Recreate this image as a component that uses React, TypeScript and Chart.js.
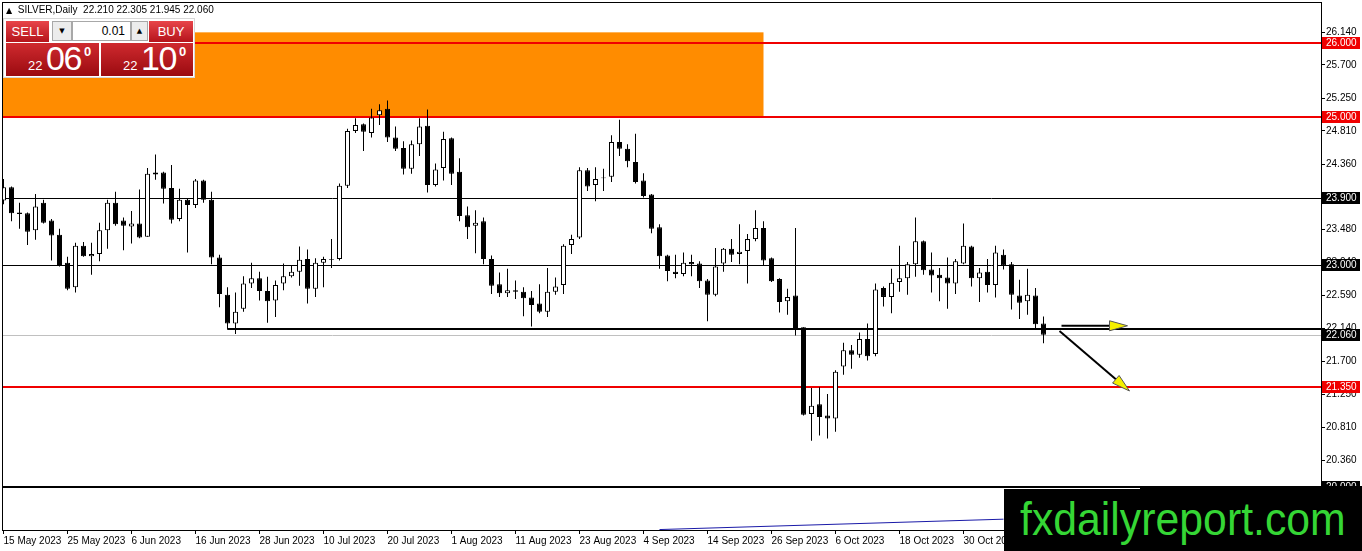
import { useEffect, useRef } from 'react'
import { Chart, registerables } from 'chart.js'

Chart.register(...registerables)

// daily OHLC, 15 May 2023 .. 13 Nov 2023 (weekdays)
const open = [
  23.87, 24.05, 23.71, 23.70, 23.47, 23.84, 23.60, 23.41, 23.03, 22.70,
  23.26, 23.12, 23.15, 23.47, 23.84, 23.60, 23.52, 23.56, 23.38, 24.25,
  24.25, 24.04, 23.62, 23.88, 23.81, 24.14, 23.88, 23.10, 22.60, 22.21,
  22.41, 22.75, 22.82, 22.65, 22.52, 22.75, 22.85, 22.91, 23.08, 22.68,
  23.03, 23.08, 23.08, 24.07, 24.81, 24.90, 24.78, 25.02, 25.11, 24.72,
  24.58, 24.30, 24.63, 24.88, 24.08, 24.31, 24.71, 24.26, 23.67, 23.53,
  23.59, 23.08, 22.74, 22.62, 22.66, 22.64, 22.56, 22.48, 22.37, 22.64,
  22.73, 23.27, 23.37, 24.28, 24.08, 24.17, 24.19, 24.66, 24.57, 24.39,
  24.14, 23.95, 23.51, 23.13, 22.91, 22.88, 23.04, 23.02, 22.79, 22.60,
  23.02, 23.22, 23.15, 23.19, 23.35, 23.50, 23.09, 22.81, 22.51, 22.59,
  22.16, 20.99, 21.12, 20.97, 20.93, 21.63, 21.85, 21.79, 22.00, 21.80,
  22.69, 22.57, 22.77, 22.82, 23.01, 23.32, 22.94, 22.87, 22.83, 22.75,
  23.02, 23.25, 22.82, 22.91, 22.73, 23.14, 23.01, 22.59, 22.51, 22.59,
  22.21,
]
const high = [
  24.16, 24.06, 23.84, 23.71, 23.96, 23.88, 23.62, 23.49, 23.11, 23.30,
  23.31, 23.30, 23.57, 23.88, 23.99, 23.64, 23.73, 24.02, 24.31, 24.49,
  24.26, 24.35, 24.03, 23.89, 24.16, 24.15, 23.99, 23.14, 22.70, 22.63,
  22.85, 23.03, 22.91, 22.84, 22.79, 23.02, 23.00, 23.25, 23.21, 23.09,
  23.11, 23.35, 24.10, 24.84, 24.98, 24.91, 25.11, 25.17, 25.22, 24.87,
  24.67, 24.68, 24.98, 25.10, 24.37, 24.80, 24.72, 24.44, 23.79, 23.74,
  23.64, 23.13, 22.90, 22.95, 22.79, 22.70, 22.65, 22.74, 22.96, 22.83,
  23.28, 23.41, 24.32, 24.31, 24.32, 24.30, 24.75, 24.96, 24.63, 24.77,
  24.24, 23.96, 23.55, 23.14, 23.14, 23.17, 23.14, 23.05, 22.81, 23.23,
  23.23, 23.35, 23.55, 23.42, 23.74, 23.59, 23.10, 22.82, 22.68, 23.50,
  22.16, 21.34, 21.35, 21.26, 21.58, 21.95, 21.92, 22.09, 22.21, 22.75,
  22.71, 22.95, 23.26, 23.04, 23.64, 23.33, 23.17, 22.96, 23.10, 23.08,
  23.56, 23.26, 22.96, 23.08, 23.26, 23.21, 23.04, 22.80, 22.95, 22.69,
  22.305,
]
const low = [
  23.82, 23.59, 23.49, 23.27, 23.34, 23.56, 23.06, 22.98, 22.66, 22.63,
  23.11, 22.87, 23.05, 23.22, 23.53, 23.20, 23.29, 23.36, 23.38, 24.15,
  23.83, 23.56, 23.59, 23.17, 23.77, 23.84, 23.01, 22.43, 22.13, 22.07,
  22.37, 22.69, 22.52, 22.22, 22.30, 22.66, 22.83, 22.72, 22.48, 22.57,
  22.70, 22.96, 23.06, 24.04, 24.78, 24.54, 24.72, 24.89, 24.66, 24.54,
  24.22, 24.23, 24.47, 23.98, 24.06, 24.14, 24.08, 23.59, 23.35, 23.16,
  23.01, 22.61, 22.57, 22.57, 22.54, 22.31, 22.17, 22.35, 22.30, 22.60,
  22.61, 23.15, 23.35, 24.00, 23.86, 24.00, 24.12, 24.47, 24.32, 24.10,
  23.91, 23.43, 22.95, 22.78, 22.82, 22.85, 22.85, 22.69, 22.24, 22.58,
  22.91, 23.04, 23.01, 22.75, 23.32, 22.99, 22.77, 22.36, 22.33, 22.05,
  20.97, 20.63, 20.70, 20.66, 20.75, 21.52, 21.60, 21.75, 21.71, 21.77,
  22.44, 22.35, 22.64, 22.60, 22.84, 22.87, 22.63, 22.51, 22.41, 22.61,
  23.01, 22.71, 22.50, 22.63, 22.56, 22.94, 22.40, 22.27, 22.33, 22.15,
  21.945,
]
const close = [
  24.05, 23.70, 23.69, 23.45, 23.79, 23.57, 23.40, 23.00, 22.68, 23.26,
  23.12, 23.15, 23.47, 23.84, 23.55, 23.53, 23.56, 23.37, 24.23, 24.22,
  24.03, 23.61, 23.88, 23.81, 24.14, 23.88, 23.10, 22.61, 22.21, 22.37,
  22.75, 22.82, 22.65, 22.51, 22.73, 22.85, 22.91, 23.07, 22.68, 23.03,
  23.08, 23.07, 24.07, 24.81, 24.89, 24.80, 24.99, 25.09, 24.72, 24.57,
  24.30, 24.63, 24.87, 24.08, 24.29, 24.70, 24.23, 23.66, 23.51, 23.57,
  23.08, 22.72, 22.62, 22.66, 22.64, 22.55, 22.46, 22.37, 22.64, 22.71,
  23.26, 23.35, 24.28, 24.06, 24.16, 24.18, 24.66, 24.57, 24.40, 24.12,
  23.93, 23.49, 23.12, 22.92, 22.88, 23.03, 23.01, 22.78, 22.60, 22.98,
  23.22, 23.14, 23.18, 23.35, 23.50, 23.06, 22.78, 22.50, 22.57, 22.13,
  20.98, 21.10, 20.95, 20.93, 21.56, 21.85, 21.79, 22.00, 21.77, 22.67,
  22.57, 22.76, 22.82, 23.01, 23.32, 22.93, 22.86, 22.82, 22.75, 23.05,
  23.26, 22.82, 22.90, 22.73, 23.17, 22.99, 22.60, 22.49, 22.60, 22.20,
  22.06,
]

// one label every 8 bars
const dateTicks = [
  '15 May 2023', '25 May 2023', '6 Jun 2023', '16 Jun 2023', '28 Jun 2023',
  '10 Jul 2023', '20 Jul 2023', '1 Aug 2023', '11 Aug 2023', '23 Aug 2023',
  '4 Sep 2023', '14 Sep 2023', '26 Sep 2023', '6 Oct 2023', '18 Oct 2023',
  '30 Oct 2023', '9 Nov 2023',
]
const priceTicks = [
  26.14, 25.7, 25.25, 24.81, 24.36, 23.92, 23.48, 23.04,
  22.59, 22.14, 21.7, 21.25, 20.81, 20.36, 19.92,
]

const redLevels = [26.0, 25.0, 21.35]
const blackLevels = [23.9, 23.0]
const supportLevel = 22.13
const supportFrom = 28
const bidPrice = 22.06
const floorLevel = 20.0
const zoneTop = 26.14
const zoneBottom = 25.0
const zoneEnd = 95
const blueLine = [[82, 19.43], [125, 19.57]]
const arrows = [
  { from: [132.25, 22.18], to: [140.5, 22.18] },
  { from: [132, 22.11], to: [140.75, 21.3] },
]
const axisTags = [
  { value: 26.0, bg: '#f00000' },
  { value: 25.0, bg: '#f00000' },
  { value: 23.9, bg: '#000' },
  { value: 23.0, bg: '#000' },
  { value: 22.06, bg: '#000' },
  { value: 21.35, bg: '#f00000' },
  { value: 20.0, bg: '#000' },
]

const FONT = 'Liberation Sans, Arial, sans-serif'

const overlay = {
  id: 'overlay',
  beforeDatasetsDraw(chart: any) {
    const { ctx, chartArea: a, scales } = chart
    const x = scales.x
    const y = scales.y
    ctx.save()
    ctx.beginPath()
    ctx.rect(a.left, a.top, a.right - a.left, a.bottom - a.top)
    ctx.clip()

    const zt = y.getPixelForValue(zoneTop)
    const zb = y.getPixelForValue(zoneBottom)
    ctx.fillStyle = '#ff8c00'
    ctx.fillRect(a.left, zt, x.getPixelForValue(zoneEnd) - a.left, zb - zt)

    const hline = (v: number, color: string, w: number, from = a.left) => {
      const py = Math.round(y.getPixelForValue(v)) + (w % 2 ? 0.5 : 0)
      ctx.strokeStyle = color
      ctx.lineWidth = w
      ctx.beginPath()
      ctx.moveTo(from, py)
      ctx.lineTo(a.right, py)
      ctx.stroke()
    }
    hline(bidPrice, '#c0c0c0', 1)
    blackLevels.forEach((v) => hline(v, '#000', 1))
    hline(floorLevel, '#000', 2)
    hline(supportLevel, '#000', 2, x.getPixelForValue(supportFrom))
    redLevels.forEach((v) => hline(v, '#f00000', 2))

    ctx.strokeStyle = '#1a1aa8'
    ctx.lineWidth = 1
    ctx.beginPath()
    blueLine.forEach(([i, p], k) => {
      const px = x.getPixelForValue(i)
      const py = y.getPixelForValue(p)
      if (k === 0) ctx.moveTo(px, py)
      else ctx.lineTo(px, py)
    })
    ctx.stroke()
    ctx.restore()
  },
  afterDraw(chart: any) {
    const { ctx, chartArea: a, scales } = chart
    const x = scales.x
    const y = scales.y
    ctx.save()

    // arrows
    arrows.forEach(({ from, to }) => {
      const x0 = x.getPixelForValue(from[0])
      const y0 = y.getPixelForValue(from[1])
      const x1 = x.getPixelForValue(to[0])
      const y1 = y.getPixelForValue(to[1])
      const ang = Math.atan2(y1 - y0, x1 - x0)
      const len = 18
      const hw = 5
      const bx = x1 - Math.cos(ang) * len
      const by = y1 - Math.sin(ang) * len
      ctx.strokeStyle = '#000'
      ctx.lineWidth = 2
      ctx.beginPath()
      ctx.moveTo(x0, y0)
      ctx.lineTo(bx, by)
      ctx.stroke()
      ctx.beginPath()
      ctx.moveTo(x1, y1)
      ctx.lineTo(bx - Math.sin(ang) * hw, by + Math.cos(ang) * hw)
      ctx.lineTo(bx + Math.sin(ang) * hw, by - Math.cos(ang) * hw)
      ctx.closePath()
      ctx.fillStyle = '#f5f000'
      ctx.fill()
      ctx.lineWidth = 1
      ctx.strokeStyle = '#555'
      ctx.stroke()
    })

    // frame
    ctx.strokeStyle = '#000'
    ctx.lineWidth = 1
    ctx.strokeRect(a.left - 0.5, a.top - 0.5, a.right - a.left + 1, a.bottom - a.top + 1)

    // price tags on the axis
    ctx.font = '10px ' + FONT
    ctx.textBaseline = 'middle'
    axisTags.forEach(({ value, bg }) => {
      const py = Math.round(y.getPixelForValue(value))
      ctx.fillStyle = bg
      ctx.fillRect(a.right + 1, py - 6, 38, 12)
      ctx.fillStyle = '#fff'
      ctx.fillText(value.toFixed(3), a.right + 5, py + 0.5)
    })
    ctx.restore()
  },
}

function CandleChart() {
  const ref = useRef<HTMLCanvasElement>(null)

  useEffect(() => {
    const chart = new Chart(ref.current as HTMLCanvasElement, {
      type: 'bar',
      data: {
        datasets: [
          {
            label: 'wick',
            data: high.map((h, i) => ({ x: i, y: [low[i], h] })) as any,
            backgroundColor: '#000',
            borderWidth: 0,
            barThickness: 1,
            inflateAmount: 0,
            order: 2,
          },
          {
            label: 'body',
            data: open.map((o, i) => ({ x: i, y: [o, close[i]] })) as any,
            backgroundColor: open.map((o, i) => (close[i] > o ? '#fff' : '#000')),
            borderColor: '#000',
            borderWidth: 1,
            borderSkipped: false,
            barThickness: 5,
            inflateAmount: 0,
            order: 1,
          },
        ],
      },
      options: {
        animation: false,
        responsive: true,
        maintainAspectRatio: false,
        layout: { padding: { left: 3, top: 3, right: 0, bottom: 0 } },
        datasets: { bar: { grouped: false } },
        plugins: { legend: { display: false }, tooltip: { enabled: false } },
        scales: {
          x: {
            type: 'linear',
            min: -0.0625,
            max: 164.6875,
            offset: false,
            afterBuildTicks: (s: any) => {
              s.ticks = dateTicks.map((_, k) => ({ value: k * 8 }))
            },
            afterFit: (s: any) => {
              s.height = 21
              s.paddingLeft = 0
              s.paddingRight = 0
            },
            ticks: {
              callback: (_v: any, i: number) => dateTicks[i],
              align: 'start',
              autoSkip: false,
              maxRotation: 0,
              padding: 1,
              color: '#000',
              font: { family: FONT, size: 10 },
            },
            grid: { drawOnChartArea: false, tickLength: 4, color: '#000', offset: false },
            border: { display: true, color: '#000' },
          },
          y: {
            position: 'right',
            min: 19.424,
            max: 26.536,
            afterBuildTicks: (s: any) => {
              s.ticks = priceTicks.map((v) => ({ value: v }))
            },
            afterFit: (s: any) => {
              s.width = 41
              s.paddingTop = 0
              s.paddingBottom = 0
            },
            ticks: {
              callback: (v: any) => Number(v).toFixed(3),
              padding: 1,
              color: '#000',
              font: { family: FONT, size: 10 },
            },
            grid: { drawOnChartArea: false, tickLength: 4, color: '#000' },
            border: { display: true, color: '#000' },
          },
        },
      } as any,
      plugins: [overlay],
    })
    return () => chart.destroy()
  }, [])

  return <canvas ref={ref}></canvas>
}

const redBtn = 'linear-gradient(#e8454a, #b5141b)'
const redBox = 'linear-gradient(#cf2a2f, #9b0b10)'

function PriceBox({ left, width, big }: { left: number; width: number; big: string }) {
  return (
    <div style={{ position: 'absolute', left, top: 43, width, height: 33, background: redBox, color: '#fff', fontFamily: FONT }}>
      <span style={{ position: 'absolute', left: 22, top: 16, fontSize: 13, lineHeight: '13px' }}>22</span>
      <span style={{ position: 'absolute', left: 40, top: -1, fontSize: 34, lineHeight: '33px', letterSpacing: -1.5 }}>{big}</span>
      <span style={{ position: 'absolute', left: 78, top: 2, fontSize: 13, lineHeight: '13px', fontWeight: 'bold' }}>0</span>
    </div>
  )
}

export default function App() {
  const btn = { position: 'absolute', top: 21, height: 21, background: redBtn, color: '#fff', fontFamily: FONT, fontSize: 13, lineHeight: '21px', textAlign: 'center' } as any
  const spin = { position: 'absolute', top: 21, height: 20, boxSizing: 'border-box', background: '#ececec', border: '1px solid #a8a8a8', fontSize: 7, lineHeight: '18px', textAlign: 'center', fontFamily: 'DejaVu Sans' } as any
  return (
    <div style={{ position: 'fixed', left: 0, top: 0, width: 1362, height: 551, background: '#fff', overflow: 'hidden' }}>
      <div style={{ position: 'absolute', left: 0, top: 0, width: 1362, height: 551 }}>
        <CandleChart />
      </div>

      <div style={{ position: 'absolute', left: 6, top: 4, fontFamily: FONT, fontSize: 10, lineHeight: '12px', color: '#000', whiteSpace: 'pre' }}>
        <span style={{ fontFamily: 'DejaVu Sans', fontSize: 8 }}>▲</span>  SILVER,Daily  22.210 22.305 21.945 22.060
      </div>

      <div style={{ position: 'absolute', left: 3, top: 18, width: 192, height: 60, background: '#fff', border: '1px solid #d8d8d8', boxSizing: 'border-box' }} />
      <div style={{ ...btn, left: 6, width: 43 }}>SELL</div>
      <div style={{ ...spin, left: 52, width: 20 }}>▼</div>
      <div style={{ position: 'absolute', left: 72, top: 21, width: 59, height: 20, boxSizing: 'border-box', background: '#fff', border: '1px solid #a8a8a8', fontFamily: FONT, fontSize: 12, lineHeight: '18px', textAlign: 'right', paddingRight: 5 }}>0.01</div>
      <div style={{ ...spin, left: 131, width: 17 }}>▲</div>
      <div style={{ ...btn, left: 149, width: 44 }}>BUY</div>
      <PriceBox left={6} width={93} big="06" />
      <PriceBox left={101} width={92} big="10" />

      <div style={{ position: 'absolute', left: 1140, top: 486, width: 222, height: 4, background: '#000' }} />
      <div style={{ position: 'absolute', left: 1004, top: 489, width: 358, height: 62, background: '#000' }}>
        <div style={{ position: 'absolute', left: 16, top: 7, fontFamily: FONT, fontSize: 46, lineHeight: '46px', color: '#35d635', whiteSpace: 'nowrap', transform: 'scaleX(0.93)', transformOrigin: 'left' }}>
          fxdailyreport.com
        </div>
      </div>
    </div>
  )
}
